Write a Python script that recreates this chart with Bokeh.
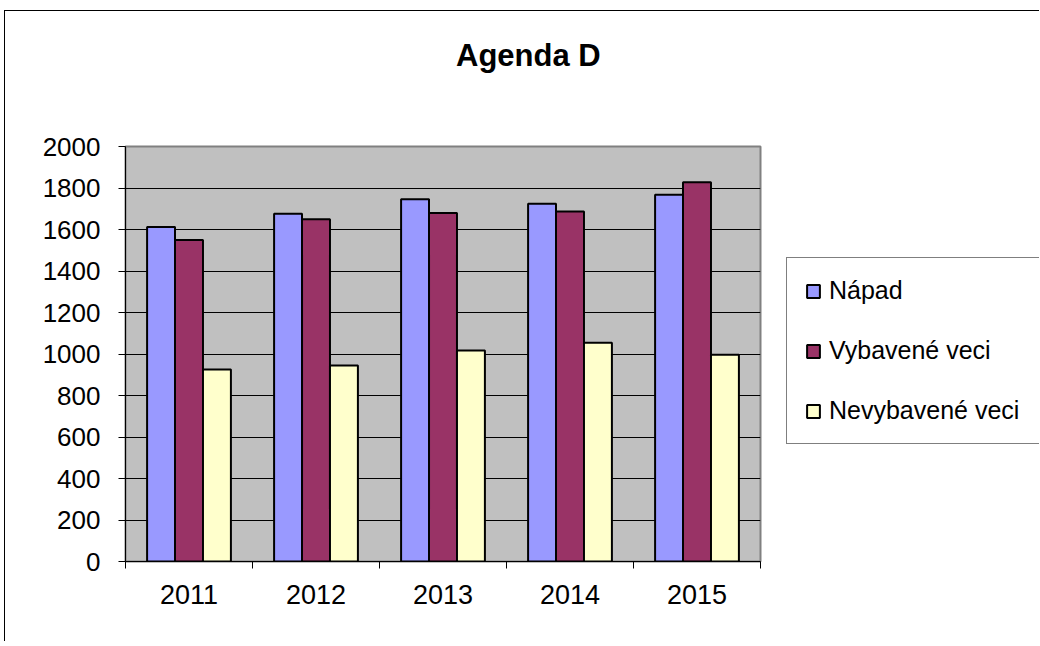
from bokeh.plotting import figure
from bokeh.models import (Range1d, FixedTicker, Legend, LegendItem, ColumnDataSource, Div)
from bokeh.layouts import row, column
from bokeh.embed import file_html
from bokeh.resources import INLINE

# ---- data ----
years = ["2011", "2012", "2013", "2014", "2015"]
series_names = ["Nápad", "Vybavené veci", "Nevybavené veci"]
napad = [1612, 1676, 1746, 1724, 1767]
vybavene = [1549, 1650, 1679, 1687, 1828]
nevybavene = [925, 945, 1017, 1054, 996]
colors = ["#9999FF", "#993366", "#FFFFCC"]
y_ticks = [0, 200, 400, 600, 800, 1000, 1200, 1400, 1600, 1800, 2000]
title_text = "Agenda D"

FONT = "Liberation Sans"
TITLE_H = 70
H = 560

# ---------------- title ----------------
title_div = Div(
    text=('<div style="padding-left:451px;padding-top:27px;'
          "font-family:'Liberation Sans',Arial,sans-serif;font-size:31px;"
          'font-weight:bold;color:black;line-height:36px;white-space:nowrap;">'
          + title_text + '</div>'),
    width=1034, height=TITLE_H, margin=0)

# ---------------- main chart ----------------
p = figure(width=780, height=H, output_backend="svg", toolbar_location=None,
           x_range=Range1d(0, len(years)), y_range=Range1d(0, 2000))
p.min_border_left = 120
p.min_border_right = 25
p.min_border_top = 65
p.min_border_bottom = 80

p.background_fill_color = "#C0C0C0"
p.border_fill_color = "white"
p.outline_line_color = "#808080"
p.outline_line_width = 2

p.xgrid.visible = False
p.ygrid.grid_line_color = "black"
p.ygrid.grid_line_width = 1
p.ygrid.ticker = FixedTicker(ticks=y_ticks)

p.yaxis.ticker = FixedTicker(ticks=y_ticks)
p.yaxis.axis_line_color = "black"
p.yaxis.major_tick_in = 0
p.yaxis.major_tick_out = 7
p.yaxis.minor_tick_line_color = None
p.yaxis.major_label_text_font = FONT
p.yaxis.major_label_text_font_size = "26px"
p.yaxis.major_label_text_color = "black"
p.yaxis.major_label_standoff = 18

centers = [i + 0.5 for i in range(len(years))]
bounds = [float(i) for i in range(len(years) + 1)]
p.xaxis.ticker = FixedTicker(ticks=centers, minor_ticks=bounds)
p.xaxis.major_label_overrides = {c: y for c, y in zip(centers, years)}
p.xaxis.major_tick_in = 0
p.xaxis.major_tick_out = 0
p.xaxis.minor_tick_in = 0
p.xaxis.minor_tick_out = 7
p.xaxis.minor_tick_line_color = "black"
p.xaxis.axis_line_color = "black"
p.xaxis.major_label_text_font = FONT
p.xaxis.major_label_text_font_size = "27px"
p.xaxis.major_label_text_color = "black"
p.xaxis.major_label_standoff = 16

bw = 0.22
offsets = [-bw, 0.0, bw]
all_vals = [napad, vybavene, nevybavene]
sources = []
for vals, off, col in zip(all_vals, offsets, colors):
    src = ColumnDataSource(dict(x=[c + off for c in centers], top=vals))
    sources.append(src)
    p.vbar(x="x", top="top", width=bw, bottom=0, source=src,
           fill_color=col, line_color="black", line_width=2)

# ---------------- legend panel ----------------
pl = figure(width=254, height=H, output_backend="svg", toolbar_location=None,
            x_range=Range1d(0, len(years)), y_range=Range1d(0, 2000),
            x_axis_location=None, y_axis_location=None)
pl.min_border_left = 0
pl.min_border_right = 0
pl.min_border_top = 0
pl.min_border_bottom = 0
pl.outline_line_color = None
pl.background_fill_color = "white"
pl.border_fill_color = "white"
pl.xgrid.visible = False
pl.ygrid.visible = False

items = []
for name, src, col in zip(series_names, sources, colors):
    r = pl.vbar(x="x", top="top", width=bw, bottom=0, source=src,
                fill_color=col, line_color="black", line_width=2, visible=False)
    items.append(LegendItem(label=name, renderers=[r]))

legend = Legend(items=items, location=(1, 117))
legend.label_text_font = FONT
legend.label_text_font_size = "25px"
legend.label_text_color = "black"
legend.label_height = 20
legend.label_width = 260
legend.glyph_width = 16
legend.glyph_height = 16
legend.label_standoff = 8
legend.spacing = 31
legend.padding = 18
legend.margin = 0
legend.border_line_color = "black"
legend.border_line_width = 1
legend.background_fill_color = "white"
legend.background_fill_alpha = 1
legend.inactive_fill_alpha = 0
pl.add_layout(legend, "center")

lay = column(title_div, row(p, pl, spacing=0), spacing=0)
lay.styles = {"margin-left": "4px", "margin-top": "10px", "background-color": "white",
              "border-left": "1px solid black", "border-top": "1px solid black"}

open("out.html", "w").write(file_html(lay, INLINE))
